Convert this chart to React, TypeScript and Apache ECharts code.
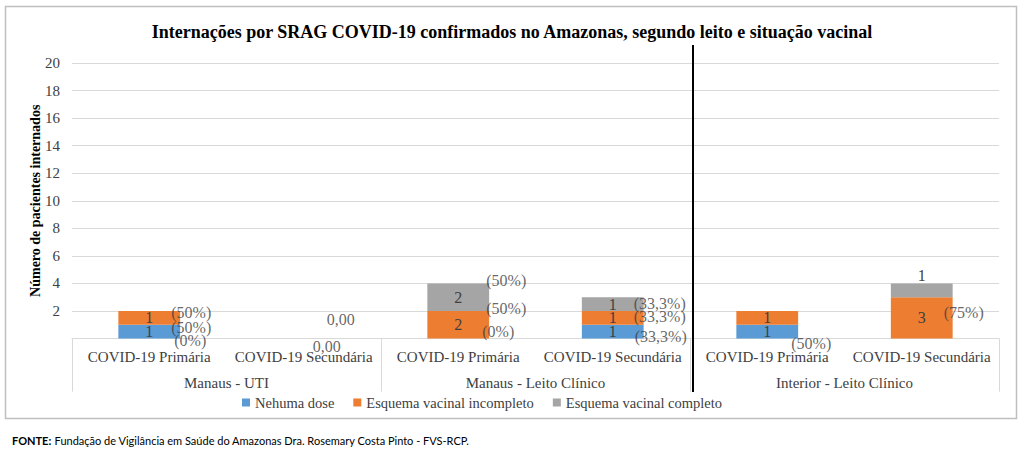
import React, { useEffect, useRef } from "react";
import * as echarts from "echarts";

const categories = [
  "COVID-19 Primária",
  "COVID-19 Secundária",
  "COVID-19 Primária",
  "COVID-19 Secundária",
  "COVID-19 Primária",
  "COVID-19 Secundária",
];
const groups = ["Manaus - UTI", "Manaus - Leito Clínico", "Interior - Leito Clínico"];
const seriesNames = ["Nehuma dose", "Esquema vacinal incompleto", "Esquema vacinal completo"];
const nenhumaDose: (number | string)[] = [1, "-", "-", 1, 1, "-"];
const incompleto: (number | string)[] = [1, "-", 2, 1, 1, 3];
const completo: (number | string)[] = ["-", "-", 2, 1, "-", 1];
const yTicks = [0, 20, 2];

// percentage / value annotations: category index, anchor value, text
const noteCat = [0, 0, 0, 1, 1, 2, 2, 2, 3, 3, 3, 4, 5];
const noteVal = [1.86, 0.77, -0.17, 1.35, -0.54, 4.18, 2.15, 0.48, 2.58, 1.57, 0.12, -0.32, 1.86];
const noteText = [
  "(50%)", "(50%)", "(0%)", "0,00", "0,00",
  "(50%)", "(50%)", "(0%)",
  "(33,3%)", "(33,3%)", "(33,3%)",
  "(50%)", "(75%)",
];
// horizontal pixel offsets of the annotations (layout)
const noteDx = [42, 42, 41, 37, 23, 48, 48, 40, 47, 47, 48, 44, 42];

const COLORS = ["#5b9bd5", "#ed7d31", "#a5a5a5"];
const SERIF = "Liberation Serif";
const TXT = "#404040";

export default function App() {
  const ref = useRef<HTMLDivElement>(null);
  useEffect(() => {
    if (!ref.current) return;
    const chart = echarts.init(ref.current, undefined, { renderer: "svg" });
    const barLabel = {
      show: true,
      position: "inside",
      color: TXT,
      fontSize: 16,
      fontFamily: SERIF,
    };
    const completoData = completo.map((v, i) =>
      i === 5 ? { value: v, label: { position: "top", distance: 0 } } : v
    );
    const option: any = {
      animation: false,
      backgroundColor: "#ffffff",
      textStyle: { fontFamily: SERIF },
      title: {
        text: "Internações por SRAG COVID-19 confirmados no Amazonas, segundo leito e situação vacinal",
        left: "center",
        top: 18,
        textStyle: { fontFamily: SERIF, fontSize: 18, fontWeight: "bold", color: "#000" },
      },
      legend: {
        data: seriesNames,
        left: 237,
        top: 390,
        icon: "rect",
        itemWidth: 8,
        itemHeight: 8,
        itemGap: 19,
        textStyle: { fontFamily: SERIF, fontSize: 14.5, color: TXT },
      },
      grid: { left: 72, right: 25, top: 63, bottom: 120.4, containLabel: false },
      xAxis: [
        {
          type: "category",
          data: categories,
          axisLine: { show: true, lineStyle: { color: "#d9d9d9" } },
          axisTick: { show: false },
          axisLabel: { interval: 0, fontFamily: SERIF, fontSize: 15, color: TXT, margin: 11 },
        },
        {
          type: "category",
          data: groups,
          position: "bottom",
          axisLine: { show: false },
          axisTick: { show: true, length: 53, interval: 0, lineStyle: { color: "#d9d9d9" } },
          axisLabel: { interval: 0, fontFamily: SERIF, fontSize: 15, color: TXT, margin: 37 },
        },
      ],
      yAxis: {
        type: "value",
        min: yTicks[0],
        max: yTicks[1],
        interval: yTicks[2],
        name: "Número de pacientes internados",
        nameLocation: "middle",
        nameGap: 30,
        nameMoveOverlap: false,
        nameTextStyle: { fontFamily: SERIF, fontSize: 14, fontWeight: "bold", color: "#000" },
        axisLine: { show: false },
        axisTick: { show: false },
        axisLabel: {
          fontFamily: SERIF,
          fontSize: 15,
          color: TXT,
          margin: 12,
          formatter: (v: number) => (v === 0 ? "" : String(v)),
        },
        splitLine: { lineStyle: { color: "#d9d9d9" } },
      },
      series: [
        {
          name: seriesNames[0],
          type: "bar",
          stack: "s",
          barWidth: "40%",
          data: nenhumaDose,
          itemStyle: { color: COLORS[0] },
          label: barLabel,
        },
        {
          name: seriesNames[1],
          type: "bar",
          stack: "s",
          barWidth: "40%",
          data: incompleto,
          itemStyle: { color: COLORS[1] },
          label: barLabel,
        },
        {
          name: seriesNames[2],
          type: "bar",
          stack: "s",
          barWidth: "40%",
          data: completoData,
          itemStyle: { color: COLORS[2] },
          label: barLabel,
        },
        {
          name: "notes",
          type: "scatter",
          symbolSize: 0,
          clip: false,
          silent: true,
          z: 10,
          data: noteCat.map((c, i) => ({
            value: [c, noteVal[i]],
            label: {
              show: true,
              position: "inside",
              formatter: noteText[i],
              offset: [noteDx[i], 0],
              color: TXT,
              fontSize: 16,
              fontFamily: SERIF,
            },
          })),
        },
      ],
      graphic: [
        {
          type: "rect",
          shape: { x: 5.5, y: 6.5, width: 1011, height: 412 },
          style: { fill: "none", stroke: "#bfbfbf", lineWidth: 1.5 },
          silent: true,
        },
        {
          type: "line",
          shape: { x1: 693, y1: 45, x2: 693, y2: 392 },
          style: { stroke: "#000", lineWidth: 2 },
          z: 20,
          silent: true,
        },
        {
          type: "text",
          left: 12,
          top: 434,
          style: {
            text: "{b|FONTE:} {n|Fundação de Vigilância em Saúde do Amazonas Dra. Rosemary Costa Pinto - FVS-RCP.}",
            rich: {
              b: { fontFamily: "Lato", fontSize: 11, fontWeight: "bold", fill: "#000" },
              n: { fontFamily: "Lato", fontSize: 11, fill: "#000" },
            },
          },
        },
      ],
    };
    chart.setOption(option);
    return () => chart.dispose();
  }, []);
  return (
    <div
      ref={ref}
      style={{ position: "fixed", left: 0, top: 0, width: 1024, height: 459, background: "#fff" }}
    />
  );
}
